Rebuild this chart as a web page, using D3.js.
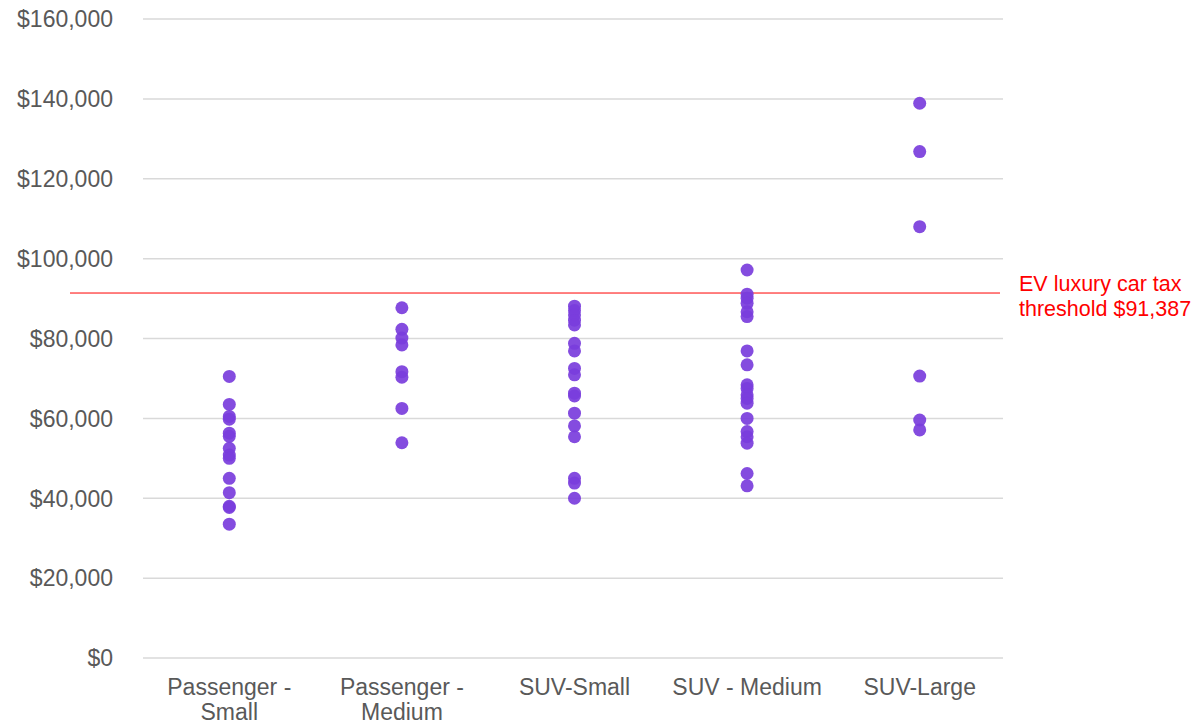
<!DOCTYPE html>
<html>
<head>
<meta charset="utf-8">
<script src="https://cdn.jsdelivr.net/npm/d3@7"></script>
<style>
  html, body { margin: 0; padding: 0; background: #fff; }
  svg { display: block; font-family: "Liberation Sans", Arial, sans-serif; }
</style>
</head>
<body>
<svg id="chart" width="1192" height="725"></svg>
<script>
// Vehicle segments along the x axis
const categories = ["Passenger - Small", "Passenger - Medium", "SUV-Small", "SUV - Medium", "SUV-Large"];
const categoryLines = [["Passenger -", "Small"], ["Passenger -", "Medium"], ["SUV-Small"], ["SUV - Medium"], ["SUV-Large"]];

// EV prices (AUD) per segment
const passengerSmall = [70500, 63500, 60500, 59800, 56300, 55500, 52500, 50800, 50000, 45000, 41400, 38000, 37700, 33500];
const passengerMedium = [87700, 82300, 80100, 78400, 71700, 70300, 62500, 53900];
const suvSmall = [88100, 87000, 85900, 84600, 83400, 78800, 76900, 72500, 70900, 66300, 65600, 61300, 58100, 55400, 45000, 43800, 40000];
const suvMedium = [97150, 91100, 90100, 88800, 86700, 85500, 76900, 73400, 68400, 67500, 65900, 65000, 63800, 60000, 56700, 55400, 53800, 46200, 43100];
const suvLarge = [138900, 126800, 108000, 70600, 59600, 57100];

const seriesValues = [passengerSmall, passengerMedium, suvSmall, suvMedium, suvLarge];

const yTicks = [0, 20000, 40000, 60000, 80000, 100000, 120000, 140000, 160000];
const threshold = 91387;
const thresholdLabel = ["EV luxury car tax", "threshold $91,387"];

const svg = d3.select("#chart");
const W = 1192, H = 725;
const plotLeft = 143, plotRight = 1003, bandRight = 1006, plotTop = 19, plotBottom = 658;

const x = d3.scaleBand().domain(categories).range([plotLeft, bandRight]);
const y = d3.scaleLinear().domain([0, 160000]).range([plotBottom, plotTop]);

// Horizontal gridlines
svg.append("g")
  .selectAll("line")
  .data(yTicks)
  .join("line")
  .attr("x1", plotLeft)
  .attr("x2", plotRight)
  .attr("y1", d => y(d))
  .attr("y2", d => y(d))
  .attr("stroke", "#d9d9d9")
  .attr("stroke-width", 1.5);

// Y axis labels
const fmt = d3.format(",");
svg.append("g")
  .selectAll("text")
  .data(yTicks)
  .join("text")
  .attr("x", 113)
  .attr("y", d => y(d))
  .attr("dy", "0.36em")
  .attr("text-anchor", "end")
  .attr("font-size", 23)
  .attr("fill", "#595959")
  .text(d => "$" + fmt(d));

// X axis labels (two lines where needed)
const xl = svg.append("g")
  .selectAll("text")
  .data(categories)
  .join("text")
  .attr("x", d => x(d) + x.bandwidth() / 2)
  .attr("y", 695)
  .attr("text-anchor", "middle")
  .attr("font-size", 23)
  .attr("fill", "#595959");
xl.selectAll("tspan")
  .data((d, i) => categoryLines[i])
  .join("tspan")
  .attr("x", function () { return d3.select(this.parentNode).attr("x"); })
  .attr("dy", (d, i) => i === 0 ? 0 : 25)
  .text(d => d);

// Luxury car tax threshold
svg.append("line")
  .attr("x1", 70)
  .attr("x2", 1000)
  .attr("y1", y(threshold))
  .attr("y2", y(threshold))
  .attr("stroke", "#ff0000")
  .attr("stroke-width", 1);

svg.append("g")
  .selectAll("text")
  .data(thresholdLabel)
  .join("text")
  .attr("x", 1019)
  .attr("y", (d, i) => 291 + i * 24.5)
  .attr("font-size", 21.5)
  .attr("fill", "#ff0000")
  .text(d => d);

// Price points
const points = categories.flatMap((c, i) => seriesValues[i].map(v => ({ c, v })));
svg.append("g")
  .selectAll("circle")
  .data(points)
  .join("circle")
  .attr("cx", d => x(d.c) + x.bandwidth() / 2)
  .attr("cy", d => y(d.v))
  .attr("r", 6.5)
  .attr("fill", "#7a3ddc")
  .attr("fill-opacity", 0.92);
</script>
</body>
</html>
